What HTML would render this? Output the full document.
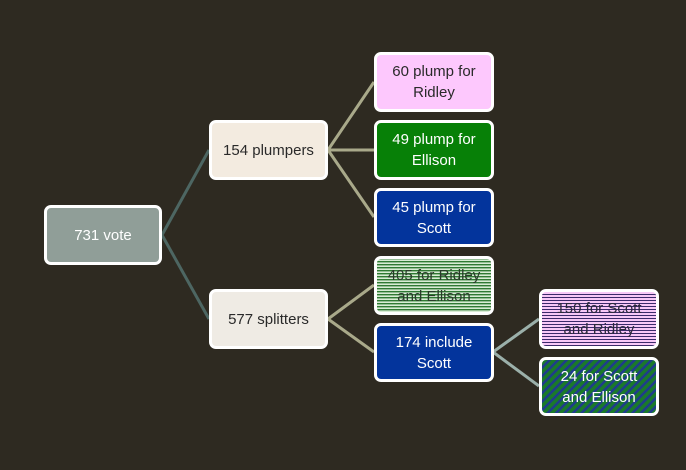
<!DOCTYPE html>
<html><head><style>
body{margin:0;width:686px;height:470px;background:#2e2a21;position:relative;overflow:hidden;font-family:"Liberation Sans",sans-serif;}
.b{position:absolute;box-sizing:border-box;border:3px solid #fff;border-radius:7px;display:flex;align-items:center;justify-content:center;text-align:center;font-size:15px;line-height:21px;color:#fff;}
svg{position:absolute;left:0;top:0}
</style></head><body>
<svg width="686" height="470">
<g stroke-width="3" fill="none">
<path d="M162 235 L209 150 M162 235 L209 319" stroke="#4d6662"/>
<path d="M328 150 L374 82 M328 150 L374 150 M328 150 L374 217 M328 319 L374 285 M328 319 L374 352" stroke="#a9a98a"/>
<path d="M493 352 L539 319 M493 352 L539 386" stroke="#9bb0aa"/>
</g>
<defs>
<pattern id="h1" width="4" height="3" patternUnits="userSpaceOnUse"><rect width="4" height="3" fill="#d8ecd4"/><rect width="4" height="1.4" fill="#2f7a33"/></pattern>
<pattern id="h2" width="4" height="3" patternUnits="userSpaceOnUse"><rect width="4" height="3" fill="#f7c8f7"/><rect width="4" height="1" fill="#3a2a6a"/></pattern>
<pattern id="h3" width="6" height="6" patternUnits="userSpaceOnUse" patternTransform="rotate(45)"><rect width="6" height="6" fill="#1a7a2a"/><rect width="2.5" height="6" fill="#1f3c8c"/></pattern>
</defs>
<rect x="376" y="258" width="115" height="55" rx="5" fill="url(#h1)"/>
<rect x="541" y="291" width="115" height="56" rx="5" fill="url(#h2)"/>
<rect x="541" y="359" width="115" height="55" rx="5" fill="url(#h3)"/>
</svg>
<div class="b" style="left:44px;top:205px;width:118px;height:60px;background:#909e98">731 vote</div>
<div class="b" style="left:209px;top:120px;width:119px;height:60px;background:#f3ebe0;color:#2a2a2a">154 plumpers</div>
<div class="b" style="left:209px;top:289px;width:119px;height:60px;background:#efebe4;color:#2a2a2a">577 splitters</div>
<div class="b" style="left:374px;top:52px;width:120px;height:60px;background:#fdc8fd;color:#2a2a2a">60 plump for<br>Ridley</div>
<div class="b" style="left:374px;top:120px;width:120px;height:60px;background:#078007">49 plump for<br>Ellison</div>
<div class="b" style="left:374px;top:188px;width:120px;height:59px;background:#03349c">45 plump for<br>Scott</div>
<div class="b" style="left:374px;top:256px;width:120px;height:59px;background:transparent;color:#2a3a2a">405 for Ridley<br>and Ellison</div>
<div class="b" style="left:374px;top:323px;width:120px;height:59px;background:#03349c">174 include<br>Scott</div>
<div class="b" style="left:539px;top:289px;width:120px;height:60px;background:transparent;color:#2a2a3a">150 for Scott<br>and Ridley</div>
<div class="b" style="left:539px;top:357px;width:120px;height:59px;background:transparent">24 for Scott<br>and Ellison</div>
</body></html>
